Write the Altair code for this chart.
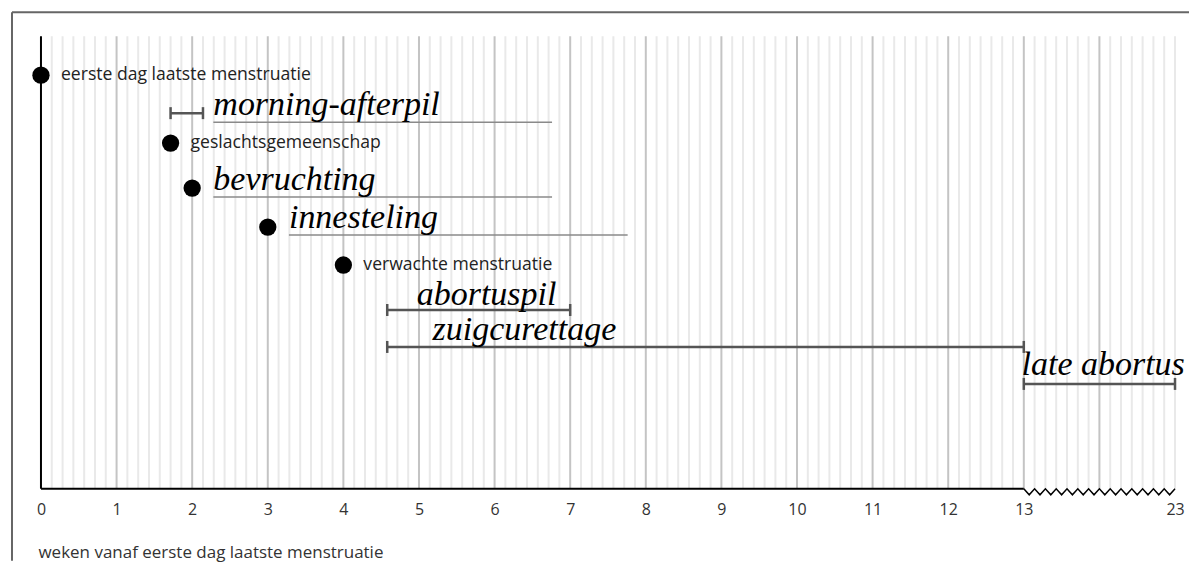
import altair as alt
import pandas as pd

# ---------------- data ----------------
event_names = ["eerste dag laatste menstruatie", "geslachtsgemeenschap",
               "bevruchting", "innesteling", "verwachte menstruatie"]
event_weeks = [0, 12 / 7, 2, 3, 4]
event_rows = [39, 107, 152, 191, 229]
event_small_label = [True, True, False, False, True]

method_names = ["morning-afterpil", "abortuspil", "zuigcurettage", "late abortus"]
method_start = [12 / 7, 4.58, 4.58, 13]
method_end = [15 / 7, 7, 13, 23]
method_rows = [77, 274, 311, 348]

script_labels = ["morning-afterpil", "bevruchting", "innesteling",
                 "abortuspil", "zuigcurettage", "late abortus"]
script_x = [2.28, 2.28, 3.28, 4.97, 5.18, 12.97]
script_rows = [79, 154, 192, 269, 304, 339]
script_underlined = [True, True, True, False, False, False]
underline_length = 4.48

tick_weeks = list(range(0, 14)) + [23]
axis_title = "weken vanaf eerste dag laatste menstruatie"

# ---------------- layout ----------------
W, H = 1135, 453
BREAK = 13      # after this week the axis is compressed
COMPRESS = 5    # real weeks per displayed week after the break


def disp(w):
    return w if w <= BREAK else BREAK + (w - BREAK) / COMPRESS


DISP_MAX = disp(max(tick_weeks))

xscale = alt.Scale(domain=[0, DISP_MAX], nice=False, zero=False)
yscale = alt.Scale(domain=[0, H], reverse=True, nice=False, zero=False)
SANS = "Open Sans"
SCRIPT = "Liberation Serif"

axis_vals = [disp(v) for v in tick_weeks]
x_axis = alt.Axis(values=axis_vals, grid=False, domain=False, ticks=False,
                  labelFlush=False, labelOverlap=False,
                  labelExpr=f"datum.value > {BREAK} ? toString(round({BREAK} + (datum.value - {BREAK}) * {COMPRESS})) : datum.label",
                  labelFont=SANS, labelFontSize=16, labelColor="#333", labelPadding=13,
                  title=axis_title, titleFont=SANS, titleFontSize=17, titleFontWeight="normal",
                  titleColor="#333", titleAnchor="start", titleAlign="left",
                  titleX=-3, titleY=64, titleBaseline="middle")


def X(field):
    return alt.X(field, scale=xscale, axis=x_axis)


def Y(field):
    return alt.Y(field, scale=yscale, axis=None)


# grid (one line per day)
n_days = int(round(DISP_MAX * 7))
grid = pd.DataFrame({"x": [i / 7 for i in range(1, n_days + 1)],
                     "major": [(i % 7 == 0 and i < n_days) for i in range(1, n_days + 1)]})

events = pd.DataFrame({"name": event_names, "x": event_weeks, "row": event_rows,
                       "small": event_small_label})
methods = pd.DataFrame({"name": method_names,
                        "x": [disp(v) for v in method_start],
                        "x2": [disp(v) for v in method_end],
                        "row": method_rows})
caps = pd.DataFrame({"x": list(methods["x"]) + list(methods["x2"]),
                     "row": list(methods["row"]) * 2})
caps["lo"] = caps["row"] - 6
caps["hi"] = caps["row"] + 6
scripts = pd.DataFrame({"name": script_labels, "x": script_x, "row": script_rows,
                        "ul": script_underlined})
under = scripts[scripts["ul"]].copy()
under["x2"] = under["x"] + underline_length
under["urow"] = under["row"] + 7

zig_n = int(round((DISP_MAX - BREAK) * 7 * 2))
zig = pd.DataFrame({"x": [BREAK + i * (DISP_MAX - BREAK) / zig_n for i in range(zig_n + 1)],
                    "row": [H + (0 if i % 2 == 0 else 6) for i in range(zig_n + 1)]})

grid_layer = alt.Chart(grid).mark_rule(strokeWidth=2).encode(
    x=X("x:Q"), y=alt.value(0), y2=alt.value(H),
    color=alt.condition("datum.major", alt.value("#c4c4c4"), alt.value("#e9e9e9")),
)

vaxis = alt.Chart(pd.DataFrame({"x": [0]})).mark_rule(color="black", strokeWidth=2).encode(
    x=X("x:Q"), y=alt.value(0), y2=alt.value(H))

haxis = alt.Chart(pd.DataFrame({"x": [0], "x2": [BREAK]})).mark_rule(color="black", strokeWidth=2).encode(
    x=X("x:Q"), x2="x2:Q", y=alt.value(H))

zig_layer = alt.Chart(zig).mark_line(color="black", strokeWidth=1.5).encode(
    x=X("x:Q"), y=Y("row:Q"))

under_layer = alt.Chart(under).mark_rule(color="#8a8a8a", strokeWidth=1.5).encode(
    x=X("x:Q"), x2="x2:Q", y=Y("urow:Q"))

range_layer = alt.Chart(methods).mark_rule(color="#555", strokeWidth=2.5).encode(
    x=X("x:Q"), x2="x2:Q", y=Y("row:Q"))

cap_layer = alt.Chart(caps).mark_rule(color="#555", strokeWidth=2.5).encode(
    x=X("x:Q"), y=Y("lo:Q"), y2="hi:Q")

dot_layer = alt.Chart(events).mark_circle(size=300, color="black", opacity=1).encode(
    x=X("x:Q"), y=Y("row:Q"))

small_text = alt.Chart(events).transform_filter("datum.small").mark_text(
    align="left", baseline="middle", dx=20, font=SANS, fontSize=17.6, color="#222").encode(
    x=X("x:Q"), y=Y("row:Q"), text="name:N")

script_text = alt.Chart(scripts).mark_text(
    align="left", baseline="alphabetic", font=SCRIPT, fontStyle="italic",
    fontSize=34, color="black").encode(
    x=X("x:Q"), y=Y("row:Q"), text="name:N")

frame_top = alt.Chart(pd.DataFrame({"k": [0]})).mark_rule(color="#666", strokeWidth=2).encode(
    x=alt.value(-29), x2=alt.value(1149), y=alt.value(-24))
frame_left = alt.Chart(pd.DataFrame({"k": [0]})).mark_rule(color="#666", strokeWidth=2).encode(
    x=alt.value(-29), y=alt.value(-24), y2=alt.value(525))

chart = alt.layer(
    grid_layer, vaxis, haxis, zig_layer, under_layer, range_layer, cap_layer,
    dot_layer, small_text, script_text, frame_top, frame_left
).properties(
    width=W, height=H,
    padding={"left": 3, "top": 3, "right": 0, "bottom": 0},
    background="white",
).configure_view(stroke=None)

chart.save("out.html", embed_options={"renderer": "svg", "actions": False})
